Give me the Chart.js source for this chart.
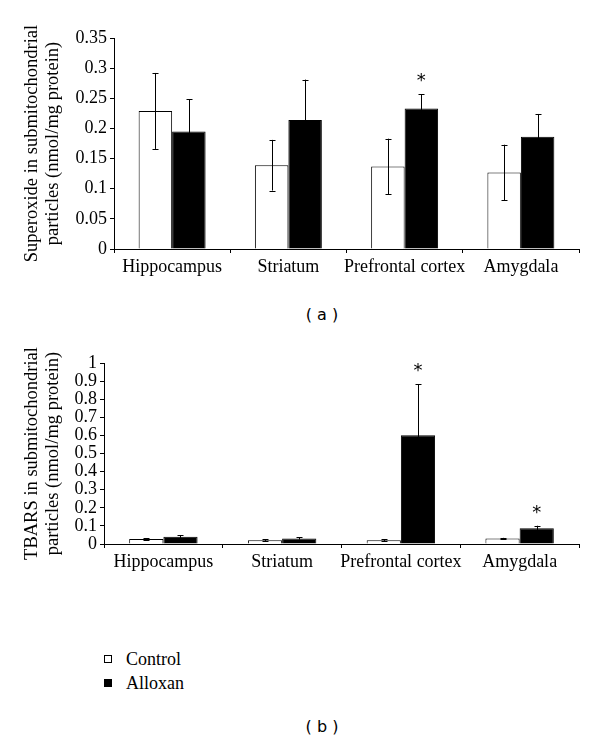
<!DOCTYPE html>
<html>
<head>
<meta charset="utf-8">
<script src="https://cdn.jsdelivr.net/npm/chart.js@4"></script>
<style>
  body { margin: 0; background: #fff; }
  #page { position: relative; width: 600px; height: 744px; overflow: hidden; }
  .box { position: absolute; left: 0; width: 600px; }
  .cap { position: absolute; width: 100px; text-align: center; font: 16px "DejaVu Sans", sans-serif; color: #000; }
  #legend { position: absolute; left: 104px; top: 647px; font: 18px "Liberation Serif", serif; color: #000; line-height: 24px; }
  #legend .sw { display: inline-block; width: 6px; height: 6px; border: 1px solid #000; margin-right: 14px; vertical-align: 2px; }
</style>
</head>
<body>
<div id="page">
  <div class="box" style="top:0;height:290px"><canvas id="chartA"></canvas></div>
  <div class="cap" style="left:272px;top:305px">( a )</div>
  <div class="box" style="top:300px;height:300px"><canvas id="chartB"></canvas></div>
  <div id="legend"></div>
  <div class="cap" style="left:272px;top:717px">( b )</div>
</div>
<script>
const categories = ['Hippocampus', 'Striatum', 'Prefrontal cortex', 'Amygdala'];
const seriesNames = ['Control', 'Alloxan'];

// (a) superoxide
const superControl = [0.229, 0.139, 0.137, 0.127];
const superControlErr = [0.063, 0.042, 0.046, 0.046];
const superAlloxan = [0.195, 0.214, 0.233, 0.186];
const superAlloxanErr = [0.053, 0.067, 0.024, 0.038];
const superStars = [false, false, true, false];

// (b) TBARS
const tbarsControl = [0.027, 0.021, 0.021, 0.030];
const tbarsControlErr = [0.006, 0.004, 0.004, 0.004];
const tbarsAlloxan = [0.040, 0.030, 0.601, 0.087];
const tbarsAlloxanErr = [0.008, 0.006, 0.283, 0.014];
const tbarsStars = [false, false, true, true];

const serif = '"Liberation Serif", serif';

// error bars + significance stars
const errorBarPlugin = {
  id: 'errorBars',
  afterDatasetsDraw(chart) {
    const ctx = chart.ctx;
    const y = chart.scales.y;
    ctx.save();
    ctx.strokeStyle = '#000';
    ctx.lineWidth = 1;
    chart.data.datasets.forEach((ds, di) => {
      const meta = chart.getDatasetMeta(di);
      meta.data.forEach((bar, i) => {
        const v = ds.data[i], e = ds.errors[i];
        const top = y.getPixelForValue(v + e);
        const bot = y.getPixelForValue(Math.max(0, v - e));
        const x = Math.round(bar.x) + 0.5;
        ctx.beginPath();
        ctx.moveTo(x, top); ctx.lineTo(x, bot);
        ctx.moveTo(x - 3, Math.round(top) + 0.5); ctx.lineTo(x + 3, Math.round(top) + 0.5);
        ctx.moveTo(x - 3, Math.round(bot) + 0.5); ctx.lineTo(x + 3, Math.round(bot) + 0.5);
        ctx.stroke();
        if (ds.stars && ds.stars[i]) {
          ctx.fillStyle = '#000';
          ctx.font = '18px "DejaVu Sans"';
          ctx.textAlign = 'center';
          ctx.textBaseline = 'alphabetic';
          ctx.fillText('*', bar.x, top - 8);
        }
      });
    });
    ctx.restore();
  }
};

// two-line rotated y title, not squeezed to the axis height
const yTitlePlugin = {
  id: 'yTitle',
  afterDraw(chart, args, opts) {
    const ctx = chart.ctx;
    const a = chart.chartArea;
    ctx.save();
    ctx.translate(32, (a.top + a.bottom) / 2);
    ctx.rotate(-Math.PI / 2);
    ctx.fillStyle = '#000';
    ctx.font = '18.5px ' + serif;
    ctx.textAlign = 'center';
    ctx.textBaseline = 'middle';
    opts.lines.forEach((t, i) => ctx.fillText(t, 0, i * 21));
    ctx.restore();
  }
};

const fmt = v => String(Number(v.toFixed(2)));

function makeChart(id, ctrl, ctrlErr, allox, alloxErr, stars, yMax, step, yTitle, padTop, xHeight, yWidth) {
  return new Chart(document.getElementById(id), {
    type: 'bar',
    data: {
      labels: categories,
      datasets: [
        { label: seriesNames[0], data: ctrl, errors: ctrlErr, backgroundColor: '#fff', borderColor: '#000', borderWidth: 1 },
        { label: seriesNames[1], data: allox, errors: alloxErr, stars: stars, backgroundColor: '#000', borderColor: '#000', borderWidth: 1 }
      ]
    },
    options: {
      responsive: true,
      maintainAspectRatio: false,
      animation: false,
      layout: { padding: { top: padTop, right: 21, left: 0, bottom: 0 } },
      datasets: { bar: { categoryPercentage: 0.576, barPercentage: 1 } },
      plugins: { legend: { display: false }, tooltip: { enabled: false }, yTitle: { lines: yTitle } },
      scales: {
        x: {
          grid: { display: true, drawOnChartArea: false, offset: true, color: '#000', tickLength: 4 },
          border: { display: true, color: '#000', width: 1 },
          ticks: { color: '#000', font: { family: serif, size: 18 }, maxRotation: 0, autoSkip: false, padding: 3 },
          afterFit(s) { s.height = xHeight; }
        },
        y: {
          min: 0, max: yMax,
          grid: { display: true, drawOnChartArea: false, color: '#000', tickLength: 4 },
          border: { display: true, color: '#000', width: 1 },
          ticks: { stepSize: step, autoSkip: false, color: '#000', font: { family: serif, size: 18 }, padding: 3, callback: fmt },
          afterFit(s) { s.width = yWidth; }
        }
      }
    },
    plugins: [errorBarPlugin, yTitlePlugin]
  });
}

makeChart('chartA', superControl, superControlErr, superAlloxan, superAlloxanErr, superStars,
  0.35, 0.05, ['Superoxide in submitochondrial', 'particles (nmol/mg protein)'], 38, 41, 114);
makeChart('chartB', tbarsControl, tbarsControlErr, tbarsAlloxan, tbarsAlloxanErr, tbarsStars,
  1, 0.1, ['TBARS in submitochondrial', 'particles (nmol/mg protein)'], 63, 56, 104);

// legend
const legend = document.getElementById('legend');
seriesNames.forEach((name, i) => {
  const row = document.createElement('div');
  const sw = document.createElement('span');
  sw.className = 'sw';
  sw.style.background = i === 0 ? '#fff' : '#000';
  row.appendChild(sw);
  row.appendChild(document.createTextNode(name));
  legend.appendChild(row);
});
</script>
</body>
</html>
